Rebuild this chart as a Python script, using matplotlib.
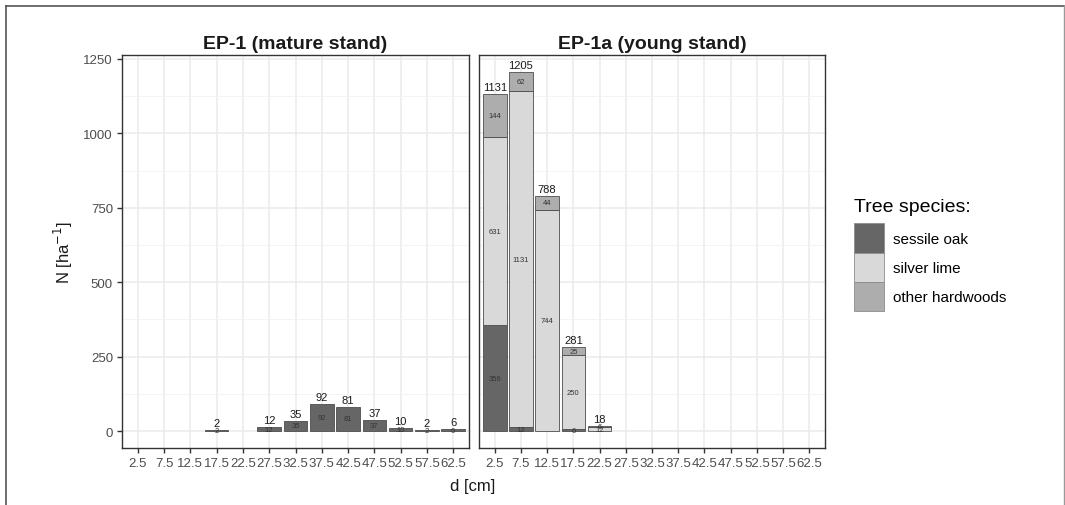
import numpy as np
import matplotlib
matplotlib.use('Agg')
import matplotlib.pyplot as plt
from matplotlib.lines import Line2D
from matplotlib.patches import Patch

plt.rcParams['font.family'] = ['Liberation Sans', 'DejaVu Sans']

classes = ['2.5', '7.5', '12.5', '17.5', '22.5', '27.5', '32.5', '37.5',
           '42.5', '47.5', '52.5', '57.5', '62.5']

# EP-1 (mature stand)
ep1_oak = [0, 0, 0, 2, 0, 12, 35, 92, 81, 37, 10, 2, 6]
ep1_lime = [0] * 13
ep1_other = [0] * 13

# EP-1a (young stand)
ep1a_oak = [356, 12, 0, 6, 0, 0, 0, 0, 0, 0, 0, 0, 0]
ep1a_lime = [631, 1131, 744, 250, 12, 0, 0, 0, 0, 0, 0, 0, 0]
ep1a_other = [144, 62, 44, 25, 6, 0, 0, 0, 0, 0, 0, 0, 0]

species = ['sessile oak', 'silver lime', 'other hardwoods']
colors = ['#666666', '#d9d9d9', '#adadad']
edge = '#4d4d4d'

W, H = 1065, 506
fig = plt.figure(figsize=(W / 100, H / 100), dpi=100)

def box(x0, y0, x1, y1):
    return [x0 / W, 1 - y1 / H, (x1 - x0) / W, (y1 - y0) / H]

ax1 = fig.add_axes(box(122, 56, 469, 449))
ax2 = fig.add_axes(box(479, 56, 825, 449))

panels = [
    (ax1, 'EP-1 (mature stand)', [ep1_oak, ep1_lime, ep1_other]),
    (ax2, 'EP-1a (young stand)', [ep1a_oak, ep1a_lime, ep1a_other]),
]

x = np.arange(len(classes))
for ax, title, series in panels:
    ax.set_xlim(-0.6, len(classes) - 0.4)
    ax.set_ylim(-57, 1263)
    ax.set_yticks([0, 250, 500, 750, 1000, 1250])
    ax.set_yticks([125, 375, 625, 875, 1125], minor=True)
    ax.set_xticks(x)
    ax.set_xticklabels(classes)
    ax.grid(True, which='major', color='#ebebeb', lw=1.1)
    ax.grid(True, which='minor', axis='y', color='#f2f2f2', lw=0.6)
    ax.set_axisbelow(True)
    for s in ax.spines.values():
        s.set_color('#333333')
        s.set_linewidth(1.0)
    ax.tick_params(axis='both', which='major', length=3.5, width=1.0,
                   color='#333333', labelcolor='#4d4d4d', labelsize=9.5, pad=3)
    ax.tick_params(axis='y', which='minor', length=0)
    ax.set_title(title, fontsize=14, fontweight='bold', color='#1a1a1a', pad=5)

    bottom = np.zeros(len(classes))
    for vals, col in zip(series, colors):
        vals = np.array(vals, dtype=float)
        nz = vals > 0
        ax.bar(x[nz], vals[nz], width=0.9, bottom=bottom[nz], color=col,
               edgecolor=edge, linewidth=0.6)
        for xi, v, b in zip(x[nz], vals[nz], bottom[nz]):
            ax.text(xi, b + v / 2, f'{int(v)}', ha='center', va='center',
                    fontsize=5.5, color='#333333')
        bottom = bottom + vals
    for xi, t in zip(x, bottom):
        if t > 0:
            ax.annotate(f'{int(t)}', (xi, t), xytext=(0, 1.5),
                        textcoords='offset points', ha='center', va='bottom',
                        fontsize=8, color='#1a1a1a')

ax2.tick_params(axis='y', which='both', left=False, labelleft=False)

ax1.set_ylabel('N [ha$^{-1}$]', fontsize=12, color='#1a1a1a', labelpad=6)
fig.text(473 / W, 1 - 487 / H, 'd [cm]', ha='center', va='center',
         fontsize=12, color='#1a1a1a')

handles = [Patch(facecolor=c, edgecolor='#8c8c8c', lw=0.6) for c in colors]
leg = fig.legend(handles, species, title='Tree species:', loc='upper left',
                 bbox_to_anchor=(848 / W, 1 - 193 / H), frameon=False,
                 fontsize=11, title_fontsize=14, handlelength=1.95,
                 handleheight=2.55, handletextpad=0.6, labelspacing=0.0,
                 borderaxespad=0)
leg._legend_box.align = 'left'
leg._legend_box.sep = 6

# outer frame of the picture
fig.add_artist(Line2D([6 / W, 6 / W], [0, 1 - 7 / H], color='#555555', lw=1.2))
fig.add_artist(Line2D([6 / W, 1064 / W], [1 - 7 / H, 1 - 7 / H], color='#555555', lw=1.2))
fig.add_artist(Line2D([1064 / W, 1064 / W], [0, 1 - 7 / H], color='#999999', lw=1.0))

fig.savefig('out.png', dpi=100)
